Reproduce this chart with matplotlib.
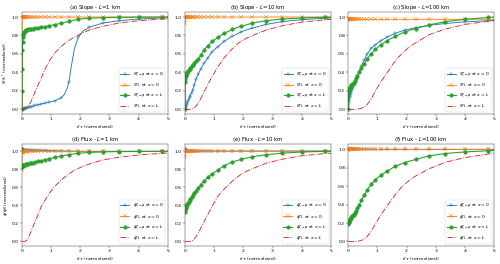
import numpy as np
import matplotlib
matplotlib.use('Agg')
import matplotlib.pyplot as plt

#-------------- Data ---------------------------------------------------------------

t = [0, 0.002, 0.005, 0.01, 0.02, 0.03, 0.045, 0.06, 0.08, 0.1, 0.125, 0.15, 0.18,
     0.22, 0.26, 0.31, 0.37, 0.45, 0.54, 0.65, 0.78, 0.93, 1.12, 1.34, 1.45, 1.55,
     1.61, 1.7, 1.8, 1.93, 2.1, 2.31, 2.78, 3.33, 4.0, 4.8, 5.0]

# points of t that carry a marker
mark_idx = [0, 1, 2, 3, 4, 5, 6, 7, 8, 9, 10, 11, 12, 13, 14, 15, 16, 17, 18, 19,
            20, 21, 22, 23, 26, 29, 31, 32, 33, 34, 35]

# (a) slope, L = 1 km
slope_zp_x0_L1 = [0, 0, 0.001, 0.002, 0.003, 0.004, 0.006, 0.008, 0.01, 0.012, 0.014, 0.016, 0.019,
                  0.022, 0.026, 0.03, 0.035, 0.042, 0.05, 0.058, 0.067, 0.078, 0.092, 0.125, 0.16, 0.23,
                  0.3, 0.48, 0.66, 0.78, 0.85, 0.89, 0.935, 0.96, 0.978, 0.99, 0.992]
slope_tl_x0_L1 = [0, 0.998, 0.999, 0.999, 1.0, 1.0, 1.0, 1.0, 1.0, 1.0, 1.0, 1.0, 1.0,
                  1.0, 1.0, 1.0, 1.0, 1.0, 1.0, 1.0, 1.0, 1.0, 1.0, 1.0, 1.0, 1.0,
                  1.0, 1.0, 1.0, 1.0, 1.0, 1.0, 1.0, 1.0, 1.0, 1.0, 1.0]
slope_zp_xL_L1 = [0, 0.2, 0.44, 0.64, 0.73, 0.78, 0.81, 0.83, 0.84, 0.85, 0.855, 0.86, 0.862,
                  0.865, 0.867, 0.87, 0.873, 0.877, 0.882, 0.888, 0.895, 0.905, 0.918, 0.932, 0.94, 0.947,
                  0.952, 0.96, 0.967, 0.975, 0.982, 0.987, 0.993, 0.997, 0.999, 1.0, 1.0]
slope_tl_xL_L1 = [0, 0, 0, 0.001, 0.002, 0.003, 0.004, 0.005, 0.007, 0.009, 0.011, 0.014, 0.02,
                  0.035, 0.055, 0.085, 0.13, 0.19, 0.26, 0.33, 0.43, 0.52, 0.61, 0.68, 0.71, 0.73,
                  0.745, 0.765, 0.785, 0.805, 0.83, 0.86, 0.9, 0.935, 0.96, 0.978, 0.98]

# (b) slope, L = 10 km
slope_zp_x0_L10 = [0, 0.005, 0.01, 0.02, 0.03, 0.04, 0.05, 0.06, 0.075, 0.09, 0.11, 0.13, 0.15,
                   0.18, 0.215, 0.26, 0.33, 0.38, 0.44, 0.5, 0.56, 0.625, 0.68, 0.735, 0.76, 0.78,
                   0.79, 0.805, 0.82, 0.84, 0.86, 0.88, 0.92, 0.95, 0.972, 0.986, 0.99]
slope_tl_x0_L10 = [0.93, 0.998, 0.999, 1.0, 1.0, 1.0, 1.0, 1.0, 1.0, 1.0, 1.0, 1.0, 1.0,
                   1.0, 1.0, 1.0, 1.0, 1.0, 1.0, 1.0, 1.0, 1.0, 1.0, 1.0, 1.0, 1.0,
                   1.0, 1.0, 1.0, 1.0, 1.0, 1.0, 1.0, 1.0, 1.0, 1.0, 1.0]
slope_zp_xL_L10 = [0, 0.3, 0.33, 0.35, 0.365, 0.375, 0.385, 0.395, 0.405, 0.415, 0.425, 0.435, 0.45,
                   0.47, 0.48, 0.5, 0.52, 0.55, 0.59, 0.645, 0.69, 0.735, 0.78, 0.825, 0.84, 0.855,
                   0.865, 0.875, 0.888, 0.9, 0.915, 0.935, 0.96, 0.978, 0.99, 0.997, 0.998]
slope_tl_xL_L10 = [0, 0, 0, 0, 0, 0, 0, 0, 0, 0, 0, 0, 0.001,
                   0.003, 0.007, 0.015, 0.035, 0.07, 0.12, 0.19, 0.27, 0.36, 0.46, 0.56, 0.6, 0.635,
                   0.655, 0.68, 0.71, 0.74, 0.77, 0.8, 0.86, 0.905, 0.945, 0.97, 0.975]

# (c) slope, L = 100 km
slope_zp_x0_L100 = [0, 0.03, 0.05, 0.07, 0.09, 0.11, 0.13, 0.15, 0.17, 0.19, 0.21, 0.235, 0.26,
                    0.29, 0.32, 0.36, 0.41, 0.47, 0.53, 0.6, 0.66, 0.7, 0.745, 0.785, 0.8, 0.815,
                    0.823, 0.834, 0.845, 0.857, 0.87, 0.885, 0.91, 0.93, 0.948, 0.96, 0.963]
slope_tl_x0_L100 = [0.97, 0.974, 0.975, 0.975, 0.975, 0.975, 0.975, 0.975, 0.975, 0.975, 0.975, 0.975, 0.975,
                    0.975, 0.975, 0.975, 0.975, 0.975, 0.975, 0.975, 0.975, 0.975, 0.975, 0.975, 0.975, 0.975,
                    0.975, 0.975, 0.975, 0.975, 0.975, 0.975, 0.975, 0.975, 0.976, 0.976, 0.976]
slope_zp_xL_L100 = [0, 0.16, 0.19, 0.205, 0.215, 0.225, 0.235, 0.24, 0.25, 0.26, 0.27, 0.28, 0.29,
                    0.31, 0.335, 0.365, 0.4, 0.445, 0.49, 0.55, 0.6, 0.65, 0.7, 0.745, 0.765, 0.78,
                    0.79, 0.805, 0.82, 0.835, 0.855, 0.875, 0.915, 0.95, 0.975, 0.995, 1.0]
slope_tl_xL_L100 = [0, 0, 0, 0, 0, 0, 0, 0, 0, 0, 0, 0, 0,
                    0, 0, 0.002, 0.005, 0.012, 0.025, 0.055, 0.11, 0.2, 0.3, 0.4, 0.45, 0.5,
                    0.52, 0.56, 0.59, 0.63, 0.68, 0.72, 0.81, 0.87, 0.92, 0.955, 0.96]

# (d) flux, L = 1 km
flux_zp_x0_L1 = [1.025, 1.024, 1.023, 1.022, 1.021, 1.02, 1.02, 1.019, 1.019, 1.018, 1.018, 1.017, 1.017,
                 1.016, 1.016, 1.015, 1.014, 1.013, 1.012, 1.011, 1.01, 1.009, 1.007, 1.005, 1.004, 1.003,
                 1.003, 1.002, 1.002, 1.001, 1.001, 1.0, 1.0, 1.0, 1.0, 1.0, 1.0]
flux_tl_x0_L1 = [0.79, 0.995, 0.996, 0.997, 0.998, 0.998, 0.998, 0.999, 0.999, 0.999, 0.999, 0.999, 0.999,
                 1.0, 1.0, 1.0, 1.0, 1.0, 1.0, 1.0, 1.0, 1.0, 1.0, 1.0, 1.0, 1.0,
                 1.0, 1.0, 1.0, 1.0, 1.0, 1.0, 1.0, 1.0, 1.0, 1.0, 1.0]
flux_zp_xL_L1 = [0.83, 0.835, 0.838, 0.84, 0.842, 0.844, 0.846, 0.848, 0.85, 0.852, 0.855, 0.857, 0.86,
                 0.863, 0.867, 0.871, 0.876, 0.882, 0.889, 0.897, 0.907, 0.918, 0.932, 0.947, 0.954, 0.96,
                 0.963, 0.968, 0.973, 0.978, 0.983, 0.988, 0.994, 0.997, 0.999, 1.0, 1.0]
flux_tl_xL_L1 = [0, 0, 0, 0, 0, 0, 0, 0, 0, 0.002, 0.005, 0.01, 0.02,
                 0.04, 0.07, 0.11, 0.16, 0.22, 0.29, 0.38, 0.45, 0.53, 0.61, 0.68, 0.71, 0.735,
                 0.75, 0.77, 0.79, 0.81, 0.835, 0.86, 0.905, 0.935, 0.96, 0.978, 0.98]

# (e) flux, L = 10 km
flux_zp_x0_L10 = [1.022, 1.02, 1.018, 1.016, 1.014, 1.012, 1.01, 1.008, 1.006, 1.005, 1.004, 1.003, 1.002,
                  1.001, 1.001, 1.0, 1.0, 1.0, 1.0, 1.0, 1.0, 1.0, 1.0, 1.0, 1.0, 1.0,
                  1.0, 1.0, 1.0, 1.0, 1.0, 1.0, 1.0, 1.0, 1.0, 1.0, 1.0]
flux_tl_x0_L10 = [0.93, 0.997, 0.998, 0.999, 1.0, 1.0, 1.0, 1.0, 1.0, 1.0, 1.0, 1.0, 1.0,
                  1.0, 1.0, 1.0, 1.0, 1.0, 1.0, 1.0, 1.0, 1.0, 1.0, 1.0, 1.0, 1.0,
                  1.0, 1.0, 1.0, 1.0, 1.0, 1.0, 1.0, 1.0, 1.0, 1.0, 1.0]
flux_zp_xL_L10 = [0.33, 0.345, 0.355, 0.365, 0.375, 0.385, 0.395, 0.405, 0.415, 0.425, 0.44, 0.455, 0.47,
                  0.49, 0.51, 0.535, 0.56, 0.595, 0.63, 0.67, 0.71, 0.75, 0.79, 0.84, 0.855, 0.87,
                  0.877, 0.887, 0.897, 0.908, 0.922, 0.937, 0.96, 0.977, 0.99, 0.997, 0.998]
flux_tl_xL_L10 = [0, 0, 0, 0, 0, 0, 0, 0, 0, 0, 0, 0, 0.002,
                  0.006, 0.012, 0.025, 0.05, 0.095, 0.15, 0.22, 0.3, 0.39, 0.5, 0.58, 0.615, 0.645,
                  0.665, 0.69, 0.715, 0.745, 0.775, 0.805, 0.865, 0.91, 0.948, 0.972, 0.977]

# (f) flux, L = 100 km
flux_zp_x0_L100 = [1.003, 1.003, 1.002, 1.002, 1.002, 1.001, 1.001, 1.001, 1.001, 1.0, 1.0, 1.0, 1.0,
                   1.0, 1.0, 1.0, 1.0, 1.0, 1.0, 1.0, 1.0, 1.0, 1.0, 1.0, 1.0, 1.0,
                   1.0, 1.0, 1.0, 1.0, 1.0, 1.0, 1.0, 1.0, 1.0, 1.0, 1.0]
flux_tl_x0_L100 = [0.99, 0.999, 1.0, 1.0, 1.0, 1.0, 1.0, 1.0, 1.0, 1.0, 1.0, 1.0, 1.0,
                   1.0, 1.0, 1.0, 1.0, 1.0, 1.0, 1.0, 1.0, 1.0, 1.0, 1.0, 1.0, 1.0,
                   1.0, 1.0, 1.0, 1.0, 1.0, 1.0, 1.0, 1.0, 1.0, 1.0, 1.0]
flux_zp_xL_L100 = [0.19, 0.2, 0.205, 0.21, 0.215, 0.225, 0.235, 0.245, 0.255, 0.265, 0.275, 0.285, 0.29,
                   0.31, 0.335, 0.36, 0.4, 0.445, 0.5, 0.56, 0.62, 0.67, 0.72, 0.765, 0.785, 0.805,
                   0.815, 0.827, 0.84, 0.855, 0.872, 0.89, 0.93, 0.955, 0.972, 0.985, 0.988]
flux_tl_xL_L100 = [0, 0, 0, 0, 0, 0, 0, 0, 0, 0, 0, 0, 0,
                   0, 0, 0.002, 0.005, 0.012, 0.025, 0.055, 0.11, 0.19, 0.29, 0.39, 0.44, 0.48,
                   0.51, 0.54, 0.58, 0.62, 0.665, 0.71, 0.79, 0.86, 0.91, 0.95, 0.96]

titles = ['(a) Slope - $L$=1 km', '(b) Slope - $L$=10 km', '(c) Slope - $L$=100 km',
          '(d) Flux - $L$=1 km', '(e) Flux - $L$=10 km', '(f) Flux - $L$=100 km']

panels = [
    [slope_zp_x0_L1, slope_tl_x0_L1, slope_zp_xL_L1, slope_tl_xL_L1],
    [slope_zp_x0_L10, slope_tl_x0_L10, slope_zp_xL_L10, slope_tl_xL_L10],
    [slope_zp_x0_L100, slope_tl_x0_L100, slope_zp_xL_L100, slope_tl_xL_L100],
    [flux_zp_x0_L1, flux_tl_x0_L1, flux_zp_xL_L1, flux_tl_xL_L1],
    [flux_zp_x0_L10, flux_tl_x0_L10, flux_zp_xL_L10, flux_tl_xL_L10],
    [flux_zp_x0_L100, flux_tl_x0_L100, flux_zp_xL_L100, flux_tl_xL_L100],
]

slope_labels = [r'$S_{\zeta-\varphi}$ at $x=0$', r'$S_{\rm TL}$ at $x=0$',
                r'$S_{\zeta-\varphi}$ at $x=L$', r'$S_{\rm TL}$ at $x=L$']
flux_labels = [r'$\phi_{\zeta-\varphi}$ at $x=0$', r'$\phi_{\rm TL}$ at $x=0$',
               r'$\phi_{\zeta-\varphi}$ at $x=L$', r'$\phi_{\rm TL}$ at $x=L$']

#-------------- Plot ---------------------------------------------------------------

fig, axes = plt.subplots(2, 3, figsize=(15.5, 8.184))
plt.subplots_adjust(left=0.044, right=0.988, top=0.953, bottom=0.068, wspace=0.12, hspace=0.3)

for k, ax in enumerate(axes.flat):
    zp0, tl0, zpL, tlL = panels[k]
    labels = slope_labels if k < 3 else flux_labels

    ax.plot(t, zp0, c='C0', marker='+', ms=7, lw=2, markevery=mark_idx, label=labels[0])
    ax.plot(t, tl0, c='C1', marker='x', ms=8, lw=2, markevery=mark_idx, label=labels[1])
    ax.plot(t, zpL, c='C2', marker='o', ms=8, lw=2.5, markevery=mark_idx, label=labels[2])
    ax.plot(t, tlL, c='C3', ls='-.', lw=2, label=labels[3])

    ax.set_title(titles[k])
    ax.set_xlim([0, 5])
    ax.set_xlabel(r'$t/\tau$ (normalized)')
    if k == 0:
        ax.set_ylabel(r'$S/S^*$ (normalized)')
    if k == 3:
        ax.set_ylabel(r'$\phi/\phi_0$ (normalized)')
    ax.legend(loc='lower right')

plt.savefig('out.png', dpi=500 / 15.5)
